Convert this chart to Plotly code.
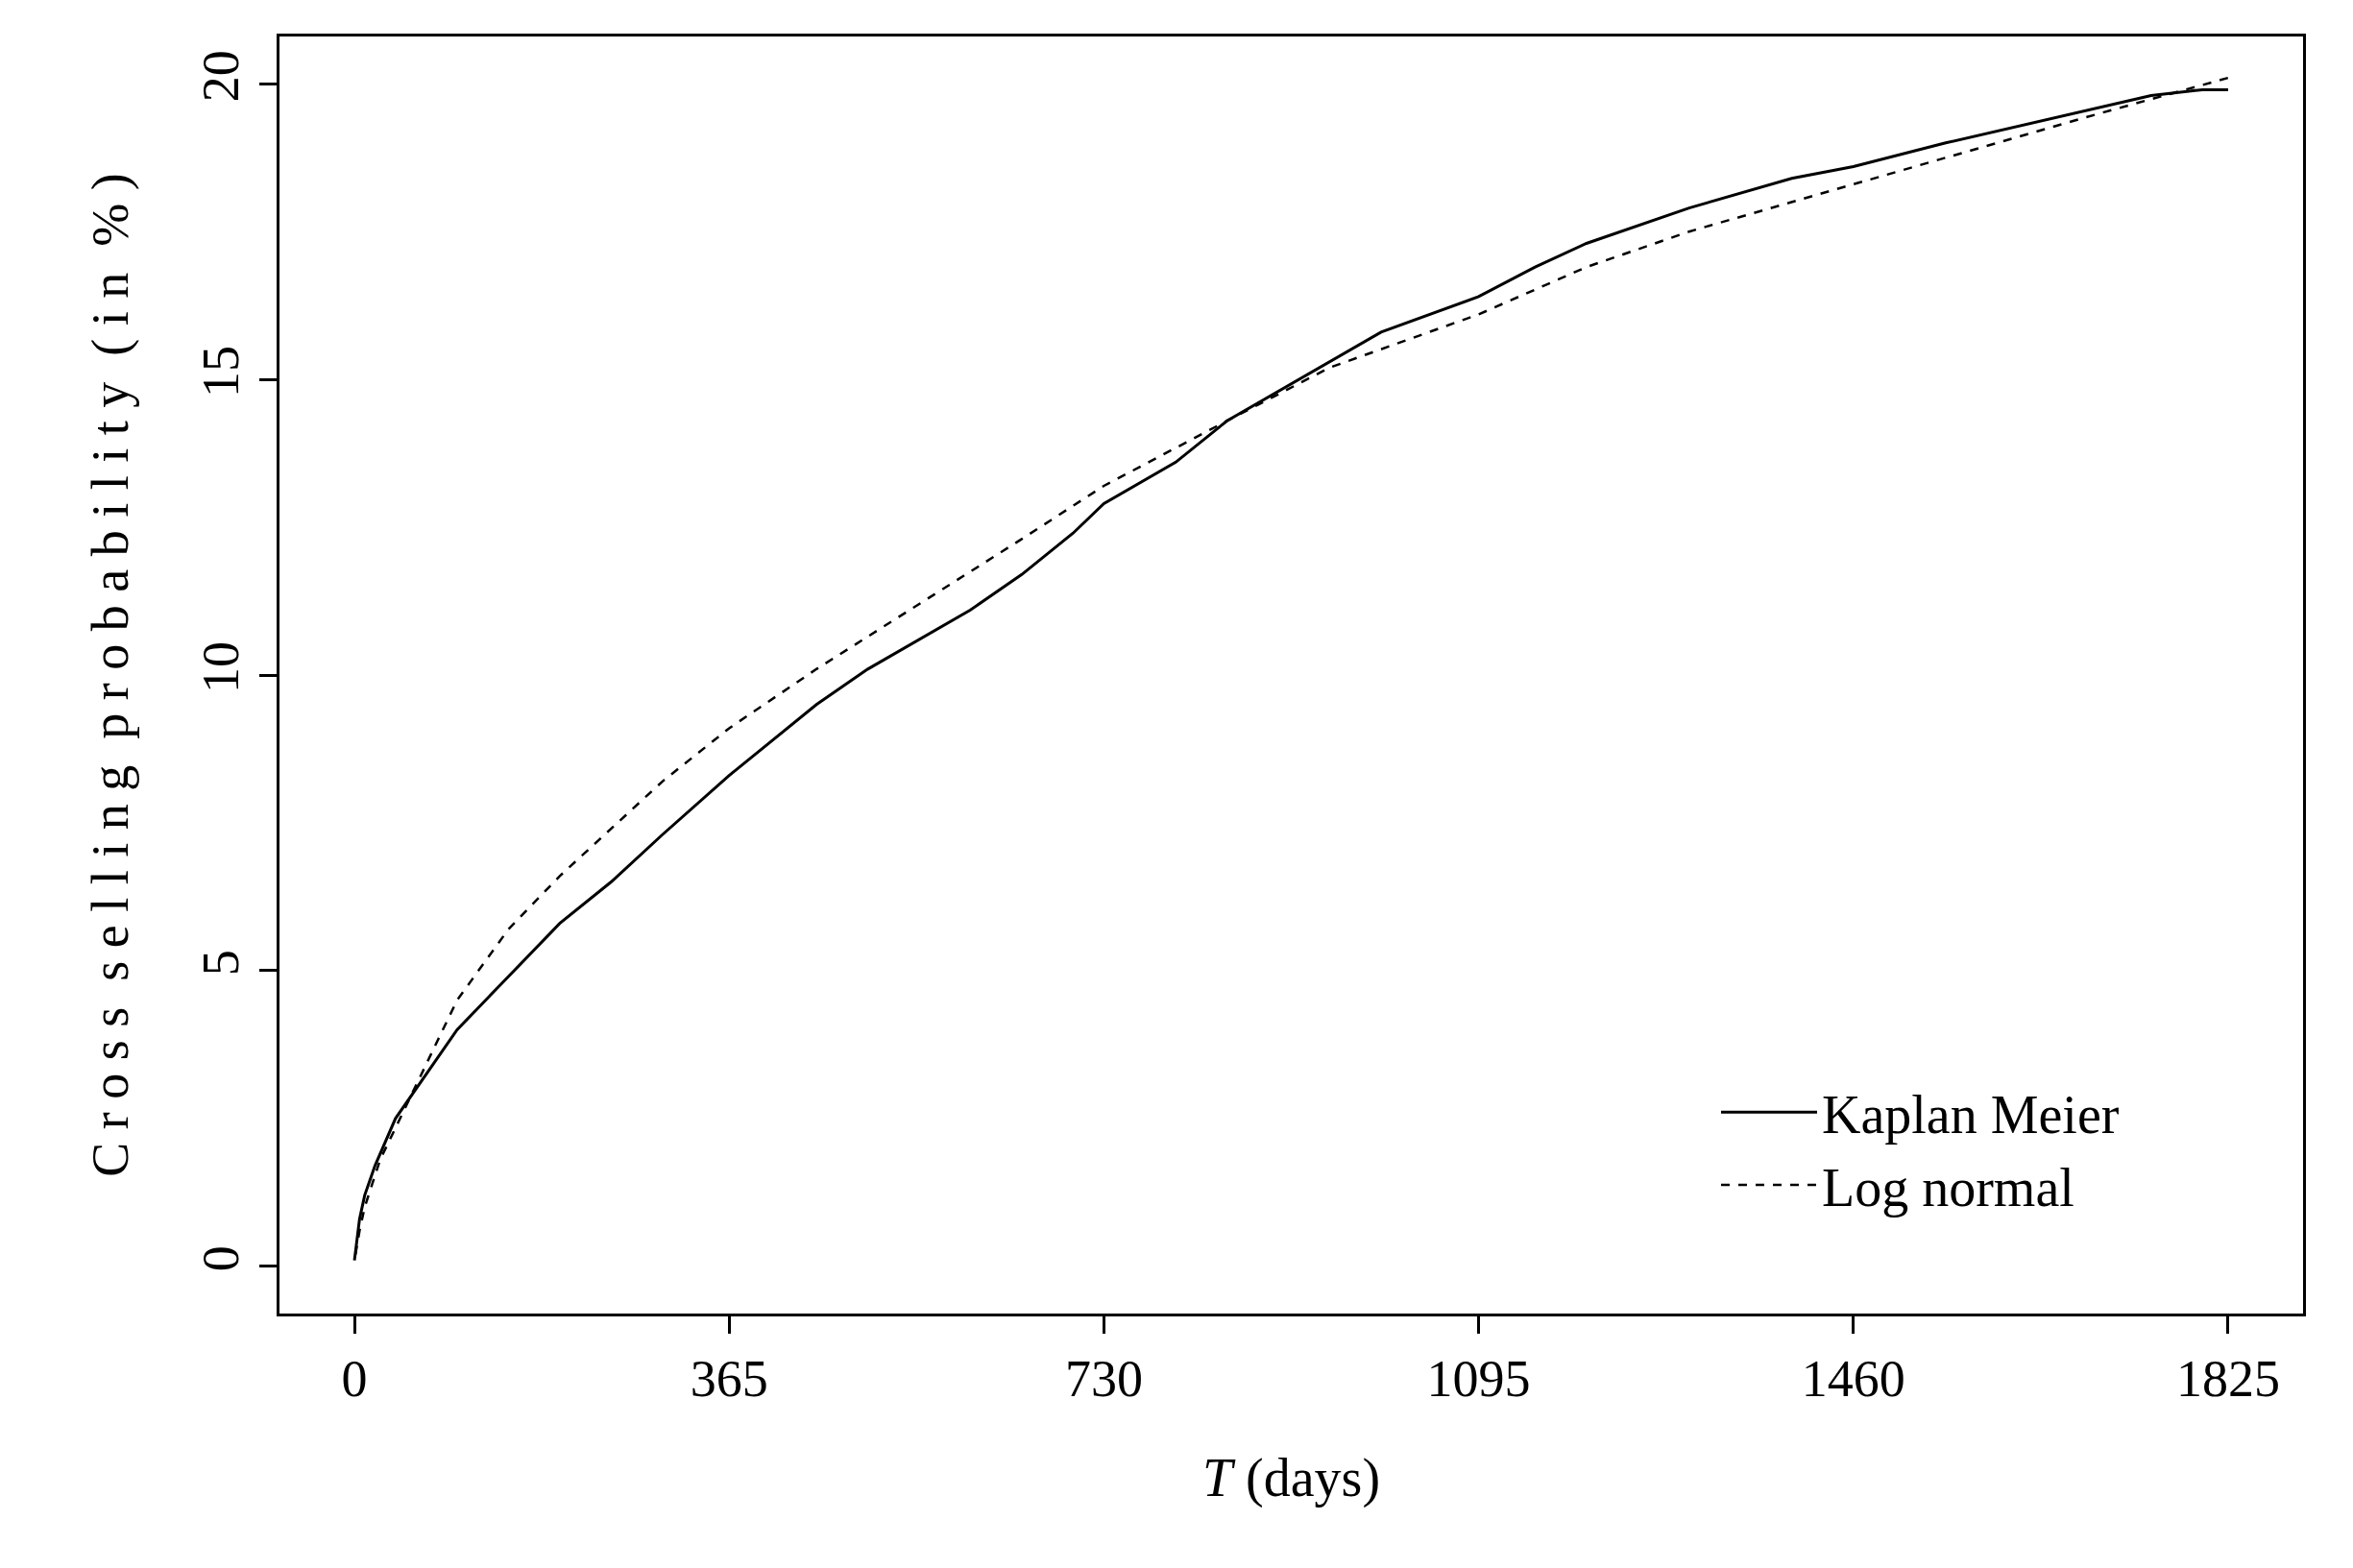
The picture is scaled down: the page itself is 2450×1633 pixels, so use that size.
import plotly.graph_objects as go

km_t = [0, 5, 10, 20, 40, 60, 80, 100, 150, 200, 250, 300, 365, 400, 450, 500, 550, 600,
        650, 700, 730, 800, 850, 900, 950, 1000, 1095, 1150, 1200, 1250, 1300, 1400,
        1460, 1550, 1600, 1700, 1750, 1800, 1825]
km_p = [0.1, 0.8, 1.2, 1.7, 2.5, 3.0, 3.5, 4.0, 4.9, 5.8, 6.5, 7.3, 8.3, 8.8, 9.5, 10.1,
        10.6, 11.1, 11.7, 12.4, 12.9, 13.6, 14.3, 14.8, 15.3, 15.8, 16.4, 16.9, 17.3,
        17.6, 17.9, 18.4, 18.6, 19.0, 19.2, 19.6, 19.8, 19.9, 19.9]

ln_t = [1, 5, 10, 25, 50, 75, 100, 150, 200, 300, 365, 450, 550, 650, 730, 850, 950,
        1095, 1200, 1300, 1460, 1600, 1700, 1825]
ln_p = [0.2, 0.6, 1.0, 1.8, 2.7, 3.6, 4.5, 5.7, 6.6, 8.2, 9.1, 10.1, 11.2, 12.3, 13.2,
        14.3, 15.2, 16.1, 16.9, 17.5, 18.3, 19.0, 19.5, 20.1]

x_ticks = [0, 365, 730, 1095, 1460, 1825]
y_ticks = [0, 5, 10, 15, 20]

font = "Liberation Serif"

fig = go.Figure()
fig.add_trace(go.Scatter(x=km_t, y=km_p, mode="lines", name="Kaplan Meier",
                         line=dict(color="black", width=3)))
fig.add_trace(go.Scatter(x=ln_t, y=ln_p, mode="lines", name="Log normal",
                         line=dict(color="black", width=2.5, dash="dash")))

axis_common = dict(showline=True, mirror=True, linecolor="black", linewidth=3,
                   ticks="outside", ticklen=18, tickwidth=3, tickcolor="black",
                   showgrid=False, zeroline=False,
                   tickfont=dict(family=font, size=54, color="black"))

fig.update_layout(
    width=2450, height=1633,
    paper_bgcolor="white", plot_bgcolor="white",
    margin=dict(l=283, r=60, t=30, b=273),
    font=dict(family=font, color="black"),
    xaxis=dict(range=[-73, 1898], tickvals=x_ticks,
               title=dict(text="<i>T</i> (days)", font=dict(size=56), standoff=55),
               **axis_common),
    yaxis=dict(range=[-0.8, 20.8], tickvals=y_ticks, tickangle=-90,
               title=dict(text="C r o s s  s e l l i n g  p r o b a b i l i t y  ( i n  % )",
                          font=dict(size=54), standoff=50),
               **axis_common),
    legend=dict(x=0.71, y=0.19, xanchor="left", yanchor="top",
                bgcolor="rgba(0,0,0,0)", font=dict(size=56, family=font),
                itemwidth=100, tracegroupgap=0),
)

fig.write_html("out.html")
